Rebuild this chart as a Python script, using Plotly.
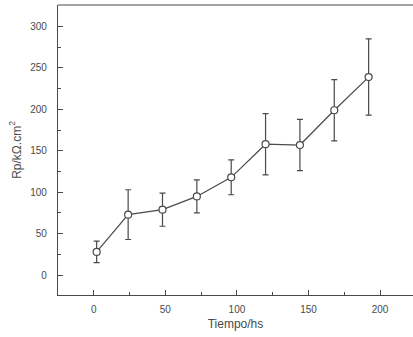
import plotly.graph_objects as go

tiempo = [2, 24, 48, 72, 96, 120, 144, 168, 192]
rp = [28, 73, 79, 95, 118, 158, 157, 199, 239]
err = [13, 30, 20, 20, 21, 37, 31, 37, 46]

ink = "#4a4a4a"
fnt = dict(family="Liberation Sans, Arial, sans-serif", size=10, color=ink)

fig = go.Figure()
fig.add_trace(go.Scatter(
    x=tiempo, y=rp,
    mode="lines+markers",
    line=dict(color=ink, width=1.2),
    marker=dict(symbol="circle", size=7, color="white", line=dict(color=ink, width=1.2)),
    error_y=dict(type="data", array=err, visible=True, color=ink, thickness=1.2, width=3),
    showlegend=False,
))

# top frame line only (no right-hand border in the reference)
fig.add_shape(type="line", xref="paper", yref="paper", x0=0, x1=1, y0=1, y1=1,
              line=dict(color=ink, width=1.2))

fig.update_layout(
    width=413, height=337,
    margin=dict(l=58, r=0, t=5, b=42),
    paper_bgcolor="white", plot_bgcolor="white",
    font=fnt,
    xaxis=dict(
        range=[-25, 223], tickvals=[0, 50, 100, 150, 200],
        ticks="inside", ticklen=5, tickwidth=1, tickcolor=ink,
        minor=dict(tickvals=[25, 75, 125, 175], ticks="inside", ticklen=3, tickcolor=ink),
        showline=True, linecolor=ink, linewidth=1.2, mirror=False,
        showgrid=False, zeroline=False,
        ticklabelstandoff=5,
        title=dict(text="Tiempo/hs", font=dict(size=12, color=ink), standoff=5),
    ),
    yaxis=dict(
        range=[-24, 326], tickvals=[0, 50, 100, 150, 200, 250, 300],
        ticks="inside", ticklen=5, tickwidth=1, tickcolor=ink,
        minor=dict(tickvals=[25, 75, 125, 175, 225, 275], ticks="inside", ticklen=3, tickcolor=ink),
        showline=True, linecolor=ink, linewidth=1.2, mirror=False,
        showgrid=False, zeroline=False,
        ticklabelstandoff=8,
        title=dict(text="Rp/kΩ.cm<sup>2</sup>", font=dict(size=12, color=ink), standoff=6),
    ),
)

fig.write_html("out.html")
